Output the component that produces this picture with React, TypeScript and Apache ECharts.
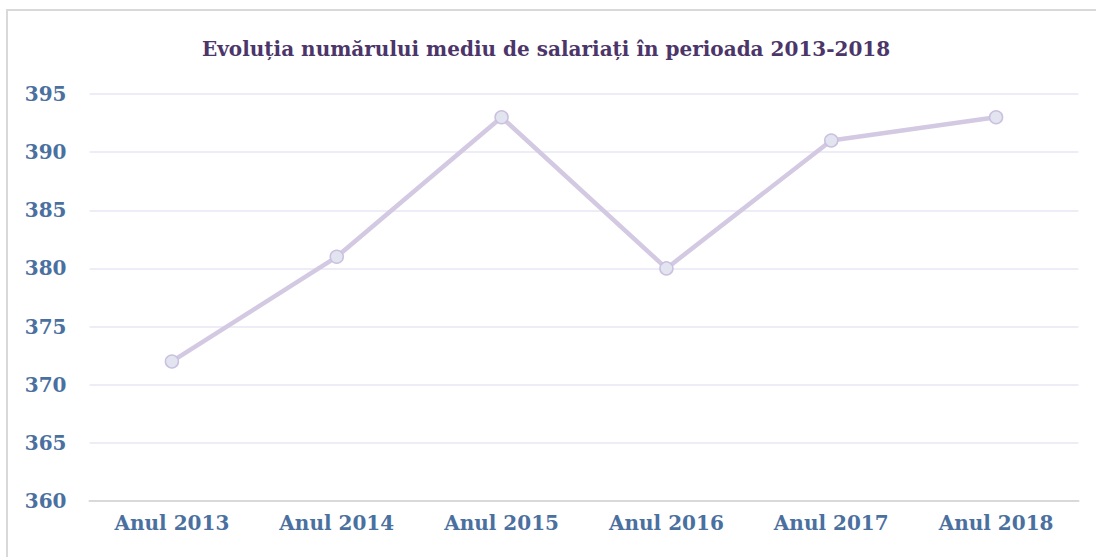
import React, { useEffect, useRef } from "react";
import * as echarts from "echarts";

const categories = ["Anul 2013", "Anul 2014", "Anul 2015", "Anul 2016", "Anul 2017", "Anul 2018"];
const values = [372, 381, 393, 380, 391, 393];
const titleText = "Evoluția numărului mediu de salariați în perioada 2013-2018";

export default function App() {
  const ref = useRef<HTMLDivElement>(null);
  useEffect(() => {
    document.body.style.margin = "0";
    const chart = echarts.init(ref.current!, null, { renderer: "svg" });
    const font = "'DejaVu Serif', 'Liberation Serif', serif";
    chart.setOption({
      animation: false,
      backgroundColor: "#ffffff",
      title: {
        text: titleText,
        left: 197,
        top: 34,
        textStyle: { fontFamily: font, fontWeight: "bold", fontSize: 20, color: "#4b3569" },
      },
      graphic: [
        {
          type: "rect",
          shape: { x: 7, y: 10, width: 1300, height: 1000 },
          style: { fill: "none", stroke: "#d9d9d9", lineWidth: 2 },
          silent: true,
        },
      ],
      grid: { left: 89.5, right: 17.5, top: 94, bottom: 56, containLabel: false },
      xAxis: {
        type: "category",
        data: categories,
        boundaryGap: true,
        axisLine: { show: true, lineStyle: { color: "#d9d9d9", width: 2 } },
        axisTick: { show: false },
        axisLabel: { fontFamily: font, fontWeight: "bold", fontSize: 20, color: "#4a70a0", margin: 12 },
      },
      yAxis: {
        type: "value",
        min: 360,
        max: 395,
        interval: 5,
        axisLine: { show: false },
        axisTick: { show: false },
        splitLine: { lineStyle: { color: "#e8e6f3", width: 1.5 } },
        axisLabel: { fontFamily: font, fontWeight: "bold", fontSize: 20, color: "#4a70a0", margin: 23 },
      },
      series: [
        {
          type: "line",
          data: values,
          symbol: "circle",
          symbolSize: 13,
          lineStyle: { color: "#d3c9e2", width: 4.5 },
          itemStyle: { color: "#e2e5f0", borderColor: "#cbc0df", borderWidth: 1.5 },
        },
      ],
    });
    return () => chart.dispose();
  }, []);
  return <div ref={ref} style={{ width: 1096, height: 557 }} />;
}
